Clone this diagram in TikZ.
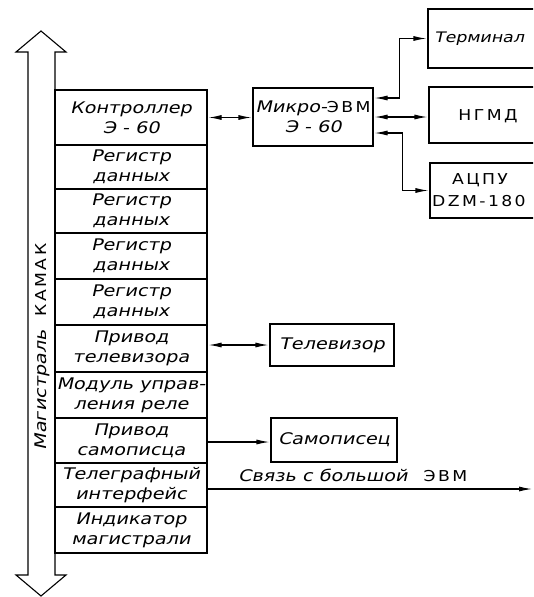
\documentclass[tikz,border=0pt]{standalone}
\usepackage{fontspec}
\setmainfont{DejaVu Sans}
\newfontfamily\itf{DejaVu Sans}[FakeSlant=0.22,FakeStretch=1.2]
\newfontfamily\upf{DejaVu Sans}[FakeStretch=1.15,LetterSpace=16]
\newcommand\itsz{\itf\fontsize{16}{20}\selectfont}
\newcommand\upsz{\upf\fontsize{15}{20}\selectfont}
\usetikzlibrary{arrows.meta,calc}
\tikzset{
  row/.style={draw,line width=1.1pt,minimum width=152pt,inner sep=0pt,align=center,font=\itsz},
  box/.style={draw,line width=1.1pt,inner sep=0pt},
  lbl/.style={inner sep=0pt,align=center,font=\itsz},
  con/.style={line width=1.1pt},
  dbl/.style={con,{Latex[length=13pt,width=5pt]}-{Latex[length=13pt,width=5pt]},shorten <=1pt,shorten >=1pt},
  one/.style={con,-{Latex[length=13pt,width=5pt]},shorten >=1pt}
}
\begin{document}
\begin{tikzpicture}[x=1pt,y=-1pt]
\useasboundingbox (0,0) rectangle (533,597);
\clip (0,0) rectangle (533,597);
% bus double arrow
\draw[line width=1.1pt,fill=white] (28,52) -- (16,52) -- (41,31) -- (66,52) -- (55,52)
  -- (55,575) -- (66,575) -- (41,596) -- (16,575) -- (28,575) -- cycle;
\node[rotate=90,inner sep=0pt] (bus) at (42,347) {{\itsz Магистраль}\hspace{14pt}{\upsz КАМАК}};
% module stack
\node[row,minimum height=55pt] (r1) at (131,117.5) {Контроллер\\Э - 60};
\node[row,minimum height=44pt] (r2) at (131,167) {Регистр\\данных};
\node[row,minimum height=44pt] (r3) at (131,211) {Регистр\\данных};
\node[row,minimum height=46pt] (r4) at (131,256) {Регистр\\данных};
\node[row,minimum height=46pt] (r5) at (131,302) {Регистр\\данных};
\node[row,minimum height=47pt] (r6) at (131,348.5) {Привод\\телевизора};
\node[row,minimum height=46pt] (r7) at (131,395) {Модуль управ-\\ления реле};
\node[row,minimum height=45pt] (r8) at (131,440.5) {Привод\\самописца};
\node[row,minimum height=44pt] (r9) at (131,485) {Телеграфный\\интерфейс};
\node[row,minimum height=46pt] (r10) at (131,530) {Индикатор\\магистрали};
% micro computer
\node[box,minimum width=120pt,minimum height=58pt,align=center,font=\itsz] (m) at (313,117) {Микро-{\upf\fontsize{15}{20}\selectfont ЭВМ}\\Э - 60};
% right boxes (cut by the edge)
\node[box,minimum width=132pt,minimum height=59pt] (t) at (494,38.5) {};
\node[inner sep=0pt,anchor=west,font=\itf\fontsize{14.5}{18}\selectfont] (tl) at (434,38.5) {Терминал};
\node[box,minimum width=132pt,minimum height=56pt] (n) at (495,115) {};
\node[inner sep=0pt,font=\upsz] (nl) at (488,116) {НГМД};
\node[box,minimum width=132pt,minimum height=55pt] (a) at (496,190.5) {};
\node[inner sep=0pt,font=\upsz] (al) at (480,180) {АЦПУ};
\node[inner sep=0pt,font=\upsz,anchor=west] (al2) at (432,201) {DZM-180};
% TV and recorder
\node[box,minimum width=124pt,minimum height=42pt,font=\itsz] (tv) at (332,345) {Телевизор};
\node[box,minimum width=126pt,minimum height=44pt,font=\itsz] (rec) at (334,440) {Самописец};
% connectors
\draw[dbl] (r1.east) -- (r1.east -| m.west);
\draw[dbl] ([yshift=19pt]m.east) -- ++(26,0) |- (t.west);
\draw[dbl] (m.east) -- (m.east -| n.west);
\draw[dbl] ([yshift=-16pt]m.east) -- ++(29,0) |- (a.west);
\draw[dbl] (r6.east |- tv.west) -- (tv.west);
\draw[one] (r8.east |- 0,442) -- (rec.west |- 0,442);
\coordinate (far) at (533,489);
\draw[one] (r9.east |- far) -- (far);
\node[inner sep=0pt,anchor=base west] (link) at (238,481) {{\itsz Связь с большой}\hspace{16pt}{\upsz ЭВМ}};
\end{tikzpicture}
\end{document}
